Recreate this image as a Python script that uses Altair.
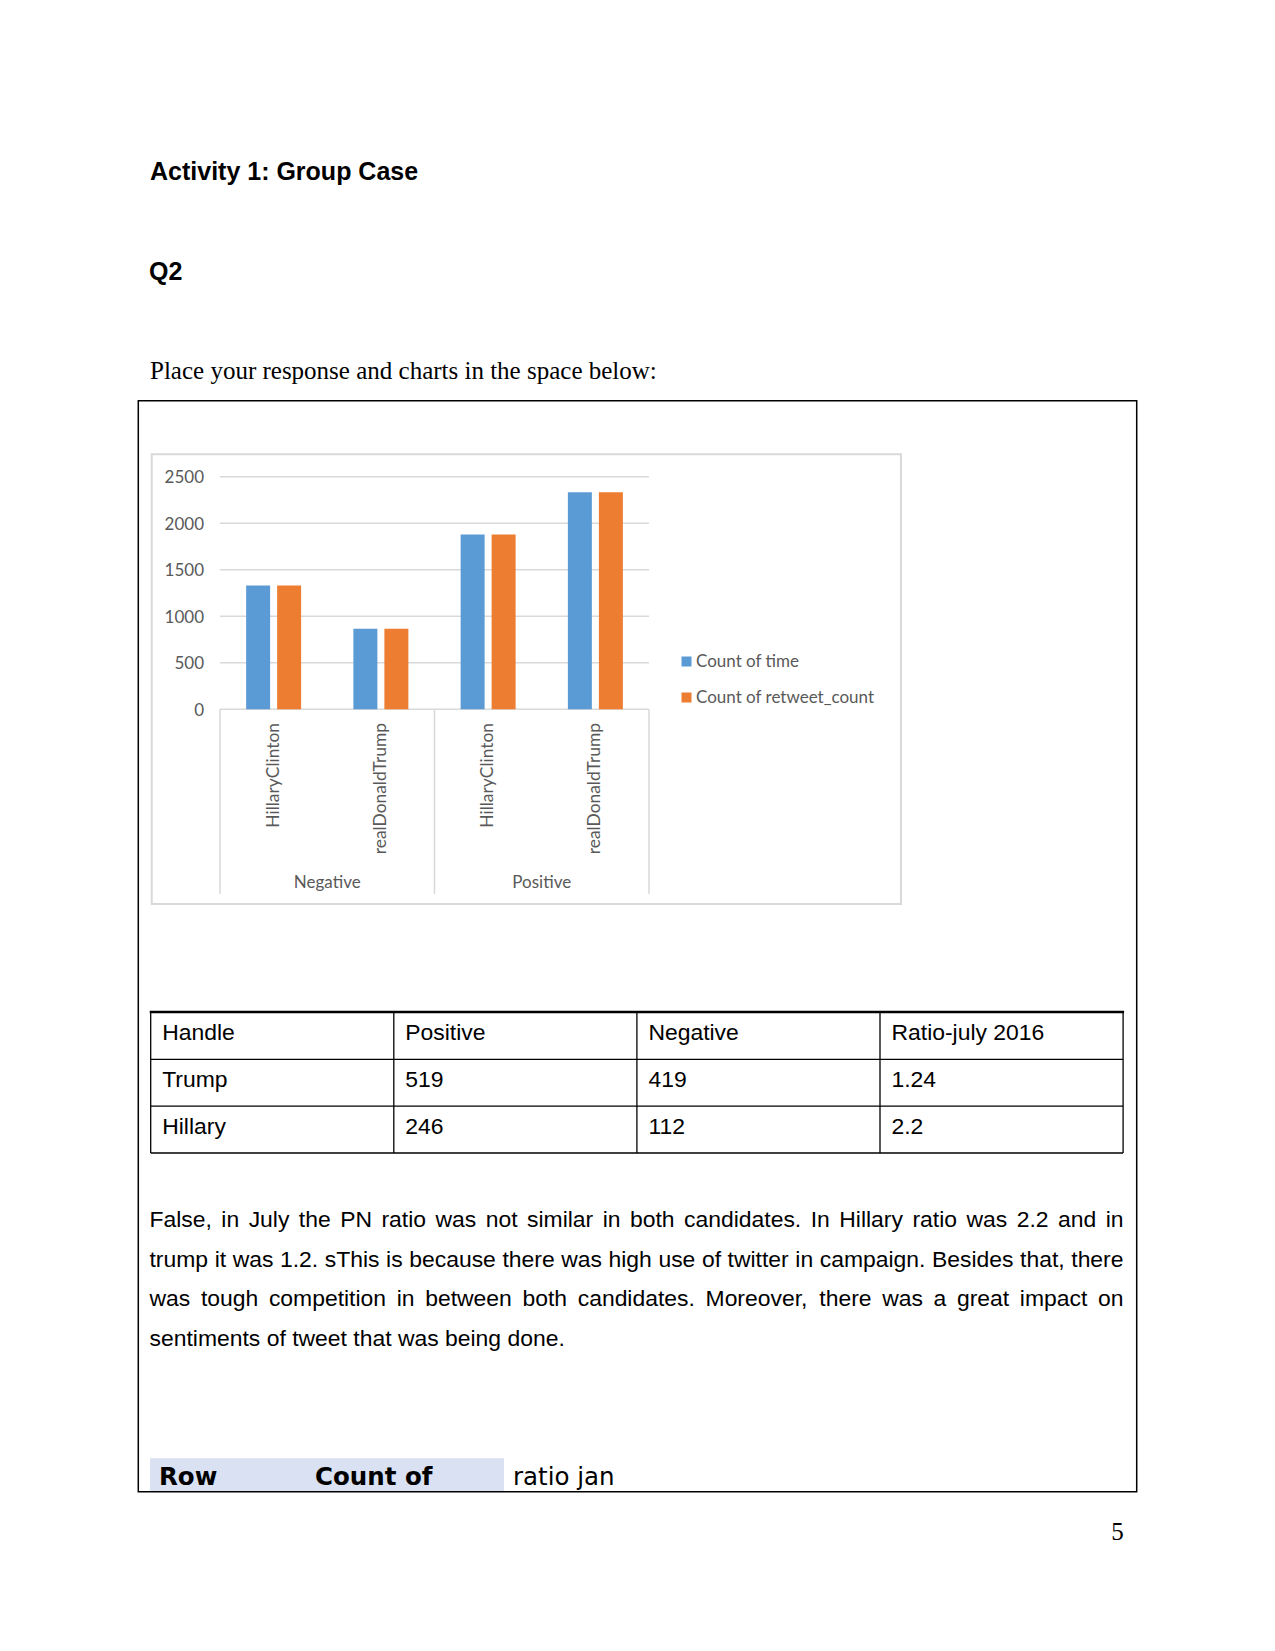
import altair as alt
import pandas as pd

# ---------------- chart data ----------------
sentiments = ["Negative", "Negative", "Positive", "Positive"]
handles = ["HillaryClinton", "realDonaldTrump", "HillaryClinton", "realDonaldTrump"]
count_of_time = [1330, 865, 1878, 2332]
count_of_retweet_count = [1330, 865, 1878, 2332]
series_names = ["Count of time", "Count of retweet_count"]
series_colors = ["#5B9BD5", "#ED7D31"]
y_ticks = [0, 500, 1000, 1500, 2000, 2500]
groups = ["Negative", "Positive"]

# ---------------- page text data ----------------
heading = "Activity 1: Group Case"
question = "Q2"
prompt = "Place your response and charts in the space below:"
table_header = ["Handle", "Positive", "Negative", "Ratio-july 2016"]
table_row_trump = ["Trump", "519", "419", "1.24"]
table_row_hillary = ["Hillary", "246", "112", "2.2"]
paragraph_lines = [
    "False, in July the PN ratio was not similar in both candidates. In Hillary ratio was 2.2 and in",
    "trump it was 1.2. sThis is because there was high use of twitter in campaign. Besides that, there",
    "was tough competition in between both candidates. Moreover, there was a great impact on",
    "sentiments of tweet that was being done.",
]
pivot_bold = ["Row", "Count of"]
pivot_plain = ["ratio jan"]
page_number = "5"

# ---------------- layout (pixels) ----------------
W, H = 1275, 1651
PX0, PX1 = 220, 649          # plot band range
PY0, PY1 = 709.3, 476.7      # y of 0 and 2500
STEP = (PX1 - PX0) / len(handles)
GRID = "#D9D9D9"
TXT = "#595959"
CHART_FONT = "Lato"

cat_keys = [f"{s}|{h}" for s, h in zip(sentiments, handles)]

bars_rows = []
for k, s, h, a, b in zip(cat_keys, sentiments, handles, count_of_time, count_of_retweet_count):
    bars_rows.append({"cat": k, "series": series_names[0], "value": a})
    bars_rows.append({"cat": k, "series": series_names[1], "value": b})
bars_df = pd.DataFrame(bars_rows)
cats_df = pd.DataFrame({"cat": cat_keys, "handle": handles})
grp_df = pd.DataFrame({"group": groups})
ticks_df = pd.DataFrame({"v": y_ticks, "label": [str(t) for t in y_ticks]})

cat_scale = alt.Scale(domain=cat_keys, range=[PX0, PX1], paddingInner=0, paddingOuter=0)
grp_scale = alt.Scale(domain=groups, range=[PX0, PX1], paddingInner=0, paddingOuter=0)
off_scale = alt.Scale(domain=series_names, range=[0, STEP], paddingInner=0.226, paddingOuter=0.843)
y_scale = alt.Scale(domain=[0, 2500], range=[PY0, PY1], nice=False, zero=True)

def px(field):
    return alt.X(f"{field}:Q", scale=None, axis=None)

def py(field):
    return alt.Y(f"{field}:Q", scale=None, axis=None)

# ---------------- chart layers ----------------
grid = alt.Chart(ticks_df).mark_rule(color=GRID, strokeWidth=1.5).encode(
    y=alt.Y("v:Q", scale=y_scale, axis=None), x=alt.value(PX0), x2=alt.value(PX1))

tick_labels = alt.Chart(ticks_df).mark_text(
    align="right", baseline="middle", dy=1.5, font=CHART_FONT, fontSize=17, color=TXT).encode(
    y=alt.Y("v:Q", scale=y_scale, axis=None), x=alt.value(204), text="label:N")

bars = alt.Chart(bars_df).mark_bar().encode(
    x=alt.X("cat:N", scale=cat_scale, axis=None),
    xOffset=alt.XOffset("series:N", scale=off_scale),
    y=alt.Y("value:Q", scale=y_scale, axis=None),
    color=alt.Color("series:N", scale=alt.Scale(domain=series_names, range=series_colors),
                    legend=alt.Legend(title=None, orient="none", legendX=678, legendY=653,
                                      direction="vertical", symbolType="square", symbolSize=100,
                                      symbolStrokeWidth=0, labelFont=CHART_FONT, labelFontSize=17,
                                      labelColor=TXT, labelOffset=1, rowPadding=18, padding=0,
                                      labelLimit=400)),
)

seps_left = alt.Chart(grp_df).mark_rule(color=GRID, strokeWidth=1.5).encode(
    x=alt.X("group:N", scale=grp_scale, axis=None, bandPosition=0),
    y=alt.value(PY0), y2=alt.value(894))
seps_right = alt.Chart(grp_df).transform_filter(
    alt.datum.group == groups[-1]).mark_rule(color=GRID, strokeWidth=1.5).encode(
    x=alt.X("group:N", scale=grp_scale, axis=None, bandPosition=1),
    y=alt.value(PY0), y2=alt.value(894))

cat_labels = alt.Chart(cats_df).mark_text(
    angle=270, align="right", baseline="middle", font=CHART_FONT, fontSize=17.4, color=TXT).encode(
    x=alt.X("cat:N", scale=cat_scale, axis=None), y=alt.value(723), text="handle:N")

grp_labels = alt.Chart(grp_df).mark_text(
    align="center", baseline="alphabetic", font=CHART_FONT, fontSize=17, color=TXT).encode(
    x=alt.X("group:N", scale=grp_scale, axis=None), y=alt.value(888), text="group:N")

# ---------------- page decorations ----------------
def box(x0, y0, x1, y1, color, sw):
    df = pd.DataFrame({"x": [x0], "y": [y0], "x2": [x1], "y2": [y1]})
    return alt.Chart(df).mark_rect(fillOpacity=0, stroke=color, strokeWidth=sw).encode(
        x=px("x"), y=py("y"), x2=alt.X2("x2"), y2=alt.Y2("y2"))

def rules(rows, color, sw):
    df = pd.DataFrame(rows, columns=["x", "y", "x2", "y2"])
    return alt.Chart(df).mark_rule(color=color, strokeWidth=sw).encode(
        x=px("x"), y=py("y"), x2=alt.X2("x2"), y2=alt.Y2("y2"))

def texts(rows, font, size, weight="normal", color="#000000", align="left"):
    df = pd.DataFrame(rows, columns=["t", "x", "y"])
    return alt.Chart(df).mark_text(font=font, fontSize=size, fontWeight=weight, color=color,
                                   align=align, baseline="alphabetic").encode(
        x=px("x"), y=py("y"), text="t:N")

band_df = pd.DataFrame({"x": [150], "y": [1458.3], "x2": [504], "y2": [1491.5]})
band = alt.Chart(band_df).mark_rect(fill="#D9E1F2").encode(
    x=px("x"), y=py("y"), x2=alt.X2("x2"), y2=alt.Y2("y2"))

outer_box = box(138.3, 400.7, 1136.7, 1491.7, "#000000", 1.5)
chart_box = box(151.7, 454.3, 901, 904, GRID, 2)

# table
TX = [150.7, 393.8, 636.9, 880.0, 1123.1]
TY = [1012, 1059.3, 1106.2, 1153]
table_thin = rules([(TX[0], y, TX[-1], y) for y in TY[1:]] +
                   [(x, TY[0], x, TY[-1]) for x in TX], "#000000", 1.3)
table_top = rules([(TX[0] - 1, TY[0], TX[-1] + 1, TY[0])], "#000000", 2.4)
table_cells = []
for r, row in enumerate([table_header, table_row_trump, table_row_hillary]):
    for c, val in enumerate(row):
        table_cells.append((val, TX[c] + 11.5, TY[r] + 28))

# paragraph with justification (Arial / Liberation Sans metrics)
AW = {' ': 278, ',': 278, '.': 278, '-': 333, ':': 278, '_': 556,
      '0': 556, '1': 556, '2': 556, '3': 556, '4': 556, '5': 556, '6': 556, '7': 556, '8': 556, '9': 556,
      'A': 667, 'B': 667, 'C': 722, 'D': 722, 'E': 667, 'F': 611, 'G': 778, 'H': 722, 'I': 278,
      'J': 500, 'K': 667, 'L': 556, 'M': 833, 'N': 722, 'O': 778, 'P': 667, 'Q': 778, 'R': 722,
      'S': 667, 'T': 611, 'U': 722, 'V': 667, 'W': 944, 'X': 667, 'Y': 667, 'Z': 611,
      'a': 556, 'b': 556, 'c': 500, 'd': 556, 'e': 556, 'f': 278, 'g': 556, 'h': 556, 'i': 222,
      'j': 222, 'k': 500, 'l': 222, 'm': 833, 'n': 556, 'o': 556, 'p': 556, 'q': 556, 'r': 333,
      's': 500, 't': 278, 'u': 556, 'v': 500, 'w': 722, 'x': 500, 'y': 500, 'z': 500}
PFS = 22.92

def wwidth(w):
    return sum(AW.get(ch, 556) for ch in w) / 1000 * PFS

PL0, PL1 = 149.5, 1123.5
para_words = []
for i, line in enumerate(paragraph_lines):
    words = line.split(" ")
    base = 1227 + i * 39.7
    widths = [wwidth(w) for w in words]
    if i < len(paragraph_lines) - 1:
        gap = (PL1 - PL0 - sum(widths)) / (len(words) - 1)
    else:
        gap = AW[' '] / 1000 * PFS
    x = PL0
    for w, wd in zip(words, widths):
        para_words.append((w, x, base))
        x += wd + gap

heading_layer = texts([(heading, 150, 180), (question, 149, 280)], "Liberation Sans", 25, "bold")
prompt_layer = texts([(prompt, 150, 379.3)], "Liberation Serif", 25)
table_text = texts(table_cells, "Liberation Sans", PFS)
para_layer = texts(para_words, "Liberation Sans", PFS)
pivot_b = texts([(pivot_bold[0], 159, 1485), (pivot_bold[1], 315, 1485)], "DejaVu Sans", 24.5, "bold")
pivot_p = texts([(pivot_plain[0], 513, 1485)], "DejaVu Sans", 24.5)
pnum = texts([(page_number, 1111.3, 1540)], "Liberation Serif", 25)

chart = alt.layer(
    band, outer_box, chart_box, table_thin, table_top,
    heading_layer, prompt_layer, table_text, para_layer, pivot_b, pivot_p, pnum,
    grid, seps_left, seps_right, bars, tick_labels, cat_labels, grp_labels,
).resolve_scale(x="independent", y="independent").properties(
    width=W, height=H, padding=0, autosize=alt.AutoSizeParams(type="none"),
    background="white",
).configure_view(strokeWidth=0)

chart.save("out.html", embed_options={"renderer": "svg", "actions": False})
